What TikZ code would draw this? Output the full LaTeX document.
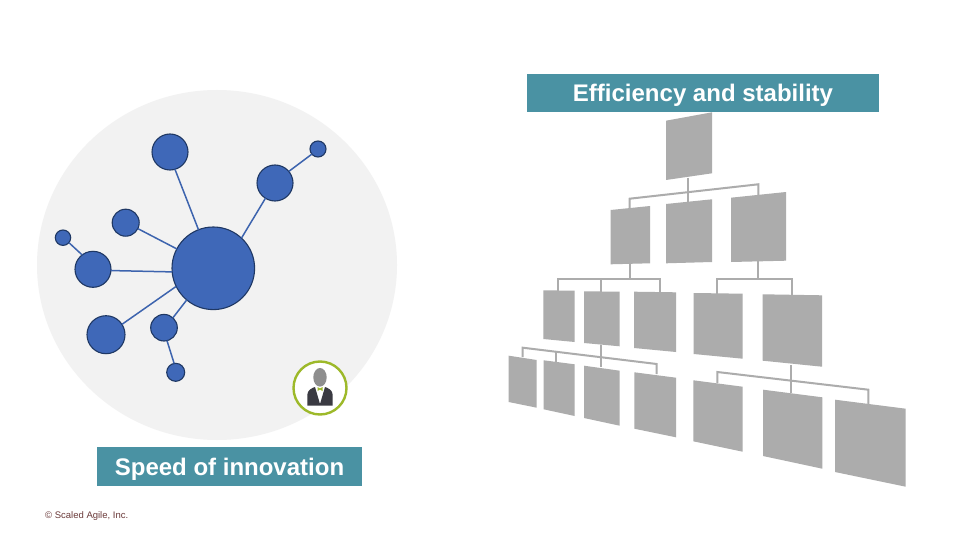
\documentclass[tikz,border=0pt]{standalone}
\usepackage{fontspec}
\setmainfont{Liberation Sans}
\definecolor{teal1}{HTML}{4A92A3}
\definecolor{grey1}{HTML}{ACACAC}
\definecolor{bgc}{HTML}{F2F2F2}
\definecolor{blue1}{HTML}{3F68B8}
\definecolor{navy1}{HTML}{1F3864}
\definecolor{link1}{HTML}{3D64AE}
\definecolor{green1}{HTML}{9DB92A}
\definecolor{suit}{HTML}{3A3A42}
\definecolor{head}{HTML}{8E8E8E}
\definecolor{copyc}{HTML}{6B3A3A}
\tikzset{
 hubnode/.style={circle,draw=navy1,line width=1.1pt,fill=blue1,inner sep=0pt,outer sep=0pt,minimum size=#1},
 linkline/.style={draw=link1,line width=1.5pt},
 orgbox/.style={fill=grey1,draw=none},
 orgline/.style={draw=grey1,line width=2pt},
 banner/.style={fill=teal1,text=white,font=\bfseries\fontsize{24}{26}\selectfont,inner sep=0pt,anchor=center,text height=18pt,text depth=0pt}
}
\begin{document}
\begin{tikzpicture}[x=1pt,y=-1pt]
\useasboundingbox (0,0) rectangle (960,540);
\fill[white] (0,0) rectangle (960,540);
% background disc
\fill[bgc] (217,265) ellipse [x radius=180,y radius=175];
% network
\node[hubnode=82.6pt] (hub) at (213.3,268.3) {};
\node[hubnode=36pt] (n1) at (170,152) {};
\node[hubnode=36pt] (n2) at (275,183) {};
\node[hubnode=16pt] (n3) at (318,149) {};
\node[hubnode=27pt] (n4) at (125.7,222.7) {};
\node[hubnode=15.4pt] (n5) at (63,237.7) {};
\node[hubnode=36pt] (n6) at (93,269.3) {};
\node[hubnode=38pt] (n7) at (106,334.7) {};
\node[hubnode=26.6pt] (n8) at (164,327.7) {};
\node[hubnode=18pt] (n9) at (175.7,372.3) {};
\draw[linkline] (n1.-74) -- (hub.111.3);
\draw[linkline] (hub.47.5) -- (n2.238.5);
\draw[linkline] (n2.40) -- (n3.220.6);
\draw[linkline] (n4.-26.6) -- (hub.152.6);
\draw[linkline] (n5.-40) -- (n6.127);
\draw[linkline] (n6.-4.4) -- (hub.185.6);
\draw[linkline] (n7.33.3) -- (hub.206.9);
\draw[linkline] (n8.48) -- (hub.230.4);
\draw[linkline] (n8.-77.3) -- (n9.100.9);
% person icon
\node[circle,draw=green1,line width=2.4pt,fill=white,minimum size=53pt,inner sep=0pt] (person) at (320,388) {};
\fill[suit] (307.3,395) -- (307.3,405.5) -- (332.7,405.5) -- (332.7,395) .. controls (332.7,390) and (328,388) .. (325,387) -- (320,404) -- (315,387) .. controls (312,388) and (307.3,390) .. (307.3,395) -- cycle;
\fill[head] (320,377.3) ellipse [x radius=6.7,y radius=9.3];
\fill[green1] (317.5,387) -- (320,388.5) -- (322.5,387) -- (322.5,391) -- (320,389.5) -- (317.5,391) -- cycle;
% banners
\node[banner,minimum width=265pt,minimum height=39pt] (speed) at (229.5,466.5) {Speed of innovation};
\node[banner,minimum width=352pt,minimum height=38pt] (eff) at (703,93) {Efficiency and stability};
\node[anchor=west,inner sep=0pt,font=\fontsize{9.5}{11}\selectfont,text=copyc] (copy) at (45,516) {© Scaled Agile, Inc.};
% org chart boxes
\fill[orgbox] (666,120.7) -- (712,112.3) -- (712,173.3) -- (666,180) -- cycle;
\fill[orgbox] (610.7,210) -- (650,206) -- (650,263.3) -- (610.7,264.3) -- cycle;
\fill[orgbox] (666,204) -- (712,199.3) -- (712,262) -- (666,263.3) -- cycle;
\fill[orgbox] (731,197.7) -- (786,192) -- (786,260.7) -- (731,262) -- cycle;
\fill[orgbox] (543.3,290.3) -- (574.7,290.7) -- (574.7,342) -- (543.3,339) -- cycle;
\fill[orgbox] (584,291.3) -- (619.7,291.7) -- (619.7,346.3) -- (584,343) -- cycle;
\fill[orgbox] (634,291.7) -- (676,292.3) -- (676,352) -- (634,348) -- cycle;
\fill[orgbox] (693.7,293) -- (742.7,293.7) -- (742.7,358.7) -- (693.7,354) -- cycle;
\fill[orgbox] (762.7,294.3) -- (822,295.3) -- (822,366.7) -- (762.7,360.7) -- cycle;
\fill[orgbox] (508.7,355.7) -- (536.7,360) -- (536.7,407.7) -- (508.7,402) -- cycle;
\fill[orgbox] (543.7,360.3) -- (574.7,364.3) -- (574.7,416) -- (543.7,409.3) -- cycle;
\fill[orgbox] (584,365.7) -- (619.7,370.7) -- (619.7,425.7) -- (584,418) -- cycle;
\fill[orgbox] (634.3,372.3) -- (676,377.7) -- (676,437.3) -- (634.3,428.7) -- cycle;
\fill[orgbox] (693.3,380.3) -- (742.7,386.7) -- (742.7,451.7) -- (693.3,441.3) -- cycle;
\fill[orgbox] (763,389.7) -- (822.3,397.3) -- (822.3,468.7) -- (763,456) -- cycle;
\fill[orgbox] (835,399.7) -- (905.7,408.7) -- (905.7,486.7) -- (835,472) -- cycle;
% org chart connection points
\coordinate (a0) at (688.3,178); \coordinate (a1) at (688.3,203);
\coordinate (a2) at (629.7,209); \coordinate (a3) at (629.7,198.7);
\coordinate (a4) at (758.3,184.3); \coordinate (a5) at (758.3,197);
\coordinate (b0) at (630,263); \coordinate (b1) at (630,279);
\coordinate (b2) at (558.3,291); \coordinate (b3) at (558.3,279);
\coordinate (b4) at (660,279); \coordinate (b5) at (660,293);
\coordinate (b6) at (601,279); \coordinate (b7) at (601,292);
\coordinate (c0) at (758,261); \coordinate (c1) at (758,279.3);
\coordinate (c2) at (717.3,294); \coordinate (c3) at (717.3,279.3);
\coordinate (c4) at (791.7,279.3); \coordinate (c5) at (791.7,295);
\coordinate (d0) at (601,345); \coordinate (d1) at (601,367);
\coordinate (d2) at (522.7,357); \coordinate (d3) at (522.7,347.7);
\coordinate (d4) at (656.7,364); \coordinate (d5) at (656.7,374);
\coordinate (d6) at (556,351.8); \coordinate (d7) at (556,362);
\coordinate (e0) at (791.3,365); \coordinate (e1) at (791.3,393);
\coordinate (e2) at (717.3,383); \coordinate (e3) at (717.3,372);
\coordinate (e4) at (868.3,389.7); \coordinate (e5) at (868.3,404);
% org chart connectors
\draw[orgline] (a0) -- (a1);
\draw[orgline] (a2) -- (a3) -- (a4) -- (a5);
\draw[orgline] (b0) -- (b1);
\draw[orgline] (b2) -- (b3) -- (b4) -- (b5);
\draw[orgline] (b6) -- (b7);
\draw[orgline] (c0) -- (c1);
\draw[orgline] (c2) -- (c3) -- (c4) -- (c5);
\draw[orgline] (d0) -- (d1);
\draw[orgline] (d2) -- (d3) -- (d4) -- (d5);
\draw[orgline] (d6) -- (d7);
\draw[orgline] (e0) -- (e1);
\draw[orgline] (e2) -- (e3) -- (e4) -- (e5);
\end{tikzpicture}
\end{document}
